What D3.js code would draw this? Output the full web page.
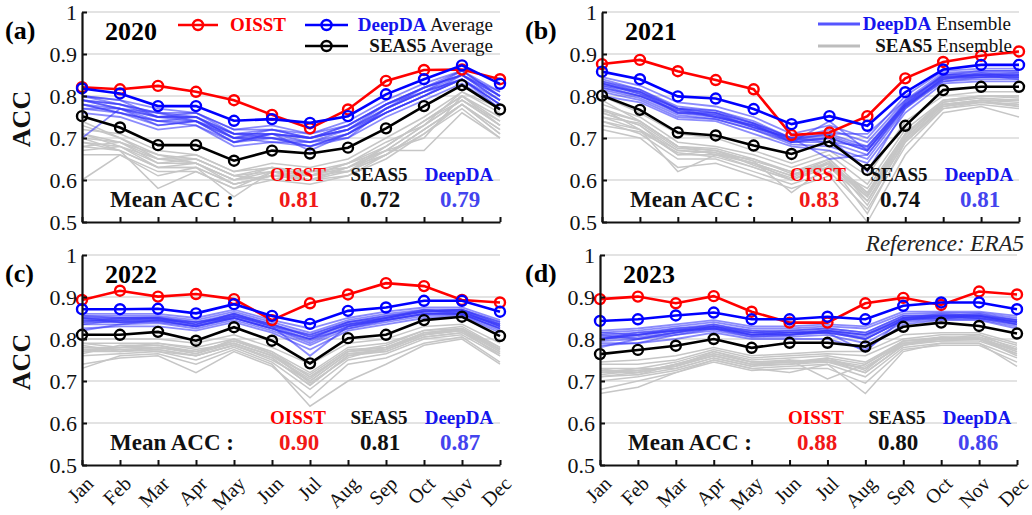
<!DOCTYPE html>
<html>
<head>
<meta charset="utf-8">
<script src="https://cdn.jsdelivr.net/npm/d3@7"></script>
<style>
  html,body{margin:0;padding:0;background:#fff;}
  svg{display:block;}
</style>
</head>
<body>
<svg id="chart" width="1032" height="515"></svg>
<script>
// ---------------- DATA ----------------
const months = ["Jan","Feb","Mar","Apr","May","Jun","Jul","Aug","Sep","Oct","Nov","Dec"];
const years = ["2020","2021","2022","2023"];
const panelLetters = ["(a)","(b)","(c)","(d)"];
const yTicks = [0.5,0.6,0.7,0.8,0.9,1.0];

const oisst2020 = [0.821,0.816,0.824,0.810,0.790,0.755,0.723,0.768,0.836,0.862,0.863,0.840];
const deepda2020 = [0.818,0.806,0.776,0.776,0.741,0.745,0.736,0.752,0.804,0.840,0.873,0.829];
const seas2020 = [0.752,0.725,0.683,0.683,0.646,0.670,0.663,0.677,0.723,0.776,0.826,0.768];

const oisst2021 = [0.876,0.886,0.859,0.838,0.816,0.707,0.713,0.752,0.842,0.881,0.896,0.906];
const deepda2021 = [0.858,0.840,0.799,0.794,0.769,0.733,0.752,0.729,0.809,0.863,0.874,0.874];
const seas2021 = [0.801,0.767,0.713,0.706,0.682,0.662,0.692,0.624,0.729,0.814,0.822,0.822];

const oisst2022 = [0.893,0.915,0.901,0.907,0.895,0.845,0.885,0.906,0.933,0.926,0.893,0.887];
const deepda2022 = [0.871,0.871,0.872,0.861,0.883,0.855,0.836,0.867,0.875,0.891,0.891,0.865];
const seas2022 = [0.810,0.810,0.817,0.796,0.828,0.796,0.742,0.802,0.810,0.845,0.853,0.807];

const oisst2023 = [0.895,0.901,0.885,0.902,0.865,0.839,0.839,0.885,0.898,0.881,0.913,0.906];
const deepda2023 = [0.843,0.847,0.856,0.863,0.847,0.847,0.853,0.847,0.879,0.887,0.887,0.871];
const seas2023 = [0.764,0.774,0.784,0.800,0.779,0.791,0.791,0.782,0.829,0.839,0.831,0.813];

const deepdaEns2020 = [
  [.80,.79,.77,.76,.72,.73,.71,.74,.79,.83,.86,.81],
  [.79,.78,.75,.75,.71,.72,.70,.73,.78,.82,.85,.80],
  [.78,.77,.74,.75,.70,.71,.70,.72,.77,.81,.85,.79],
  [.77,.76,.73,.74,.69,.70,.69,.71,.76,.80,.84,.78],
  [.80,.78,.76,.76,.71,.71,.69,.72,.78,.82,.85,.80],
  [.79,.77,.75,.74,.70,.70,.68,.71,.76,.80,.84,.79],
  [.76,.75,.72,.73,.68,.69,.68,.70,.75,.79,.83,.77],
  [.78,.76,.74,.73,.69,.71,.70,.72,.77,.81,.84,.78],
  [.70,.77,.75,.75,.70,.72,.71,.73,.78,.81,.86,.80],
  [.79,.78,.76,.75,.71,.70,.68,.71,.77,.82,.85,.81],
  [.77,.77,.73,.74,.69,.71,.67,.71,.76,.80,.84,.78],
  [.80,.79,.75,.76,.72,.72,.70,.73,.78,.82,.86,.80],
  [.78,.76,.74,.74,.70,.69,.69,.70,.77,.81,.84,.77],
  [.79,.77,.76,.74,.71,.71,.70,.72,.76,.80,.85,.79]
];
const seasEns2020 = [
  [.72,.71,.67,.66,.62,.64,.63,.65,.70,.75,.81,.76],
  [.70,.69,.65,.65,.61,.63,.62,.64,.68,.74,.80,.74],
  [.69,.68,.64,.64,.60,.62,.61,.63,.67,.73,.79,.73],
  [.68,.67,.63,.63,.59,.61,.60,.62,.66,.72,.78,.72],
  [.66,.66,.62,.62,.58,.60,.59,.61,.65,.71,.78,.71],
  [.73,.70,.66,.65,.61,.62,.62,.63,.68,.74,.80,.75],
  [.60,.66,.61,.63,.59,.61,.60,.61,.66,.71,.77,.70],
  [.71,.69,.66,.64,.60,.63,.61,.64,.67,.73,.79,.74],
  [.67,.68,.63,.64,.59,.61,.61,.62,.66,.72,.78,.72],
  [.70,.67,.58,.62,.58,.62,.60,.63,.67,.70,.80,.73],
  [.68,.69,.64,.65,.61,.60,.62,.62,.68,.74,.79,.73],
  [.74,.70,.65,.66,.62,.63,.61,.64,.69,.73,.81,.77],
  [.69,.67,.63,.63,.56,.62,.60,.63,.66,.72,.78,.71],
  [.71,.68,.65,.64,.60,.61,.62,.62,.67,.67,.76,.70]
];
const deepdaEns2021 = [
  [.845,.825,.785,.775,.75,.71,.73,.70,.80,.86,.865,.865],
  [.835,.815,.775,.765,.74,.70,.72,.69,.79,.855,.86,.86],
  [.83,.81,.77,.76,.735,.70,.71,.68,.785,.85,.855,.855],
  [.825,.80,.765,.755,.73,.695,.70,.67,.78,.845,.85,.85],
  [.82,.80,.76,.75,.725,.69,.69,.66,.775,.84,.845,.845],
  [.815,.795,.755,.745,.72,.685,.68,.65,.77,.835,.84,.84],
  [.80,.785,.745,.74,.71,.68,.67,.64,.76,.83,.835,.835],
  [.83,.805,.77,.75,.73,.69,.74,.67,.78,.85,.85,.85],
  [.825,.81,.76,.76,.725,.70,.65,.66,.775,.84,.855,.845],
  [.84,.815,.77,.765,.735,.69,.70,.62,.77,.845,.85,.855],
  [.82,.80,.765,.75,.73,.695,.71,.71,.79,.845,.845,.85],
  [.83,.805,.76,.755,.725,.70,.69,.68,.78,.84,.85,.84],
  [.81,.79,.75,.745,.72,.69,.70,.67,.775,.835,.845,.845],
  [.835,.81,.77,.76,.735,.70,.705,.675,.785,.85,.86,.86]
];
const seasEns2021 = [
  [.80,.76,.71,.70,.67,.64,.67,.61,.74,.80,.81,.81],
  [.78,.75,.69,.68,.66,.63,.66,.59,.72,.79,.80,.80],
  [.77,.74,.68,.675,.65,.62,.65,.57,.71,.785,.795,.79],
  [.76,.73,.67,.665,.64,.61,.64,.56,.70,.78,.79,.785],
  [.75,.72,.66,.66,.63,.60,.63,.55,.69,.775,.785,.78],
  [.74,.71,.65,.65,.62,.59,.62,.53,.68,.77,.78,.77],
  [.72,.70,.63,.64,.61,.58,.61,.50,.66,.76,.775,.75],
  [.77,.72,.62,.66,.64,.60,.64,.57,.70,.78,.79,.79],
  [.75,.735,.675,.67,.635,.605,.645,.54,.695,.775,.79,.775],
  [.79,.74,.68,.66,.65,.615,.63,.58,.71,.79,.80,.80],
  [.74,.72,.67,.665,.64,.61,.65,.55,.70,.78,.785,.78],
  [.76,.73,.66,.67,.645,.57,.635,.56,.705,.785,.80,.795],
  [.73,.715,.665,.655,.63,.60,.64,.52,.69,.77,.785,.775],
  [.765,.74,.68,.67,.645,.62,.64,.565,.71,.78,.79,.79]
];
const deepdaEns2022 = [
  [.86,.86,.86,.85,.87,.845,.825,.85,.865,.875,.875,.845],
  [.855,.855,.855,.845,.865,.84,.815,.845,.86,.87,.87,.84],
  [.85,.85,.852,.84,.86,.835,.81,.84,.855,.868,.868,.835],
  [.845,.845,.848,.835,.855,.83,.80,.835,.85,.865,.865,.83],
  [.84,.84,.843,.83,.85,.825,.795,.83,.845,.86,.86,.825],
  [.835,.835,.838,.825,.845,.82,.785,.825,.84,.855,.858,.82],
  [.825,.83,.83,.82,.84,.815,.775,.82,.835,.85,.855,.815],
  [.82,.835,.845,.83,.855,.83,.76,.83,.845,.86,.86,.825],
  [.85,.84,.845,.84,.85,.825,.80,.84,.85,.865,.87,.835],
  [.84,.85,.85,.835,.86,.835,.805,.835,.845,.86,.865,.83],
  [.845,.84,.84,.83,.85,.825,.79,.83,.85,.87,.86,.835],
  [.855,.85,.85,.835,.86,.83,.81,.84,.855,.865,.865,.83],
  [.835,.845,.845,.83,.85,.825,.80,.825,.845,.86,.86,.825],
  [.85,.845,.85,.84,.855,.835,.805,.835,.85,.865,.87,.84]
];
const seasEns2022 = [
  [.80,.80,.80,.79,.81,.78,.74,.79,.80,.83,.835,.79],
  [.79,.79,.79,.78,.80,.77,.72,.78,.79,.82,.83,.78],
  [.78,.78,.785,.77,.795,.765,.71,.77,.78,.815,.825,.775],
  [.775,.775,.78,.765,.79,.76,.70,.765,.775,.81,.82,.77],
  [.77,.77,.775,.76,.785,.755,.69,.76,.77,.805,.815,.765],
  [.76,.765,.77,.75,.78,.745,.68,.75,.765,.80,.81,.76],
  [.74,.755,.76,.72,.77,.735,.66,.74,.755,.79,.805,.745],
  [.73,.76,.765,.74,.775,.74,.64,.70,.74,.785,.80,.74],
  [.785,.77,.78,.77,.79,.76,.705,.77,.775,.81,.82,.77],
  [.765,.785,.785,.765,.80,.765,.695,.755,.78,.81,.825,.775],
  [.78,.775,.77,.76,.785,.75,.70,.765,.77,.805,.815,.765],
  [.77,.78,.79,.775,.79,.76,.715,.775,.78,.815,.82,.775],
  [.775,.77,.775,.76,.785,.755,.69,.76,.775,.81,.82,.76],
  [.79,.78,.78,.77,.795,.77,.71,.77,.785,.82,.825,.78]
];
const deepdaEns2023 = [
  [.82,.825,.835,.845,.83,.83,.835,.83,.865,.865,.865,.855],
  [.815,.82,.83,.84,.825,.825,.83,.825,.86,.862,.862,.85],
  [.81,.815,.825,.835,.82,.82,.825,.815,.855,.858,.858,.845],
  [.805,.81,.82,.83,.815,.815,.82,.81,.85,.855,.855,.84],
  [.80,.805,.815,.825,.81,.81,.815,.80,.845,.85,.85,.835],
  [.795,.80,.81,.82,.805,.805,.81,.79,.84,.847,.847,.83],
  [.785,.79,.80,.815,.80,.80,.80,.775,.835,.845,.845,.825],
  [.78,.80,.815,.83,.81,.815,.815,.77,.85,.855,.855,.84],
  [.80,.81,.82,.825,.815,.81,.82,.80,.845,.855,.85,.835],
  [.81,.80,.815,.83,.81,.815,.82,.81,.85,.86,.855,.84],
  [.80,.81,.82,.835,.815,.82,.825,.815,.855,.855,.86,.845],
  [.815,.81,.825,.83,.82,.815,.815,.805,.85,.85,.855,.845],
  [.80,.815,.82,.825,.81,.81,.82,.81,.845,.855,.85,.84],
  [.79,.79,.81,.825,.805,.81,.815,.80,.845,.85,.855,.835]
];
const seasEns2023 = [
  [.745,.75,.76,.78,.76,.765,.77,.77,.81,.815,.815,.79],
  [.74,.74,.75,.775,.755,.76,.765,.76,.80,.81,.81,.785],
  [.73,.73,.745,.77,.75,.755,.76,.745,.795,.805,.805,.78],
  [.72,.72,.735,.76,.74,.745,.75,.73,.79,.80,.80,.77],
  [.71,.715,.73,.755,.735,.74,.745,.72,.785,.795,.795,.765],
  [.70,.71,.725,.75,.73,.735,.74,.71,.78,.79,.79,.755],
  [.68,.70,.72,.745,.725,.73,.73,.695,.775,.785,.785,.745],
  [.67,.685,.72,.75,.73,.72,.74,.67,.77,.79,.79,.735],
  [.725,.72,.74,.765,.745,.75,.705,.74,.79,.80,.80,.775],
  [.715,.725,.735,.76,.74,.74,.755,.725,.795,.80,.805,.77],
  [.73,.715,.74,.765,.745,.745,.75,.735,.785,.80,.80,.775],
  [.72,.73,.73,.755,.735,.75,.745,.73,.79,.795,.80,.765],
  [.71,.72,.74,.76,.74,.74,.75,.72,.785,.805,.80,.76],
  [.725,.725,.735,.77,.745,.745,.755,.74,.795,.80,.81,.775]
];

const meanOisst = ["0.81","0.83","0.90","0.88"];
const meanSeas = ["0.72","0.74","0.81","0.80"];
const meanDeepda = ["0.79","0.81","0.87","0.86"];

// -------------- LAYOUT ----------------
const FONT = "'Liberation Serif', 'Times New Roman', serif";
const svg = d3.select("#chart").style("font-family", FONT);
const C_RED = "#ff0000", C_BLUE = "#0000ff", C_BLACK = "#000000";
const C_ENS_BLUE = "rgba(55,55,250,0.58)", C_ENS_GREY = "#c6c6c6";

function txt(sel) { return sel.append("text").style("font-family", FONT); }

const panels = [
  {x0: 82,  x1: 500,  yTop: 12,  yBot: 222, oisst: oisst2020, deepda: deepda2020, seas: seas2020, dEns: deepdaEns2020, sEns: seasEns2020, xLabels:false},
  {x0: 602, x1: 1019, yTop: 12,  yBot: 222, oisst: oisst2021, deepda: deepda2021, seas: seas2021, dEns: deepdaEns2021, sEns: seasEns2021, xLabels:false},
  {x0: 82,  x1: 500,  yTop: 255, yBot: 465, oisst: oisst2022, deepda: deepda2022, seas: seas2022, dEns: deepdaEns2022, sEns: seasEns2022, xLabels:true},
  {x0: 600, x1: 1017, yTop: 255, yBot: 465, oisst: oisst2023, deepda: deepda2023, seas: seas2023, dEns: deepdaEns2023, sEns: seasEns2023, xLabels:true}
];

panels.forEach((p, i) => {
  const g = svg.append("g");
  const x = d3.scalePoint().domain(months).range([p.x0, p.x1]);
  const y = d3.scaleLinear().domain([0.5, 1]).range([p.yBot, p.yTop]);

  // gridlines
  g.append("g").selectAll("line").data(yTicks.filter(t => t > 0.5)).join("line")
    .attr("x1", p.x0).attr("x2", p.x1)
    .attr("y1", d => y(d)).attr("y2", d => y(d))
    .attr("stroke", "#e3e3e3").attr("stroke-width", 2);

  const line = d3.line().x((d, j) => x(months[j])).y(d => y(d));

  // ensembles
  g.append("g").selectAll("path").data(p.sEns).join("path")
    .attr("d", line).attr("fill", "none").attr("stroke", C_ENS_GREY).attr("stroke-width", 1.5);
  g.append("g").selectAll("path").data(p.dEns).join("path")
    .attr("d", line).attr("fill", "none").attr("stroke", C_ENS_BLUE).attr("stroke-width", 1.8);

  // averaged series
  const series = [
    {v: p.seas, c: C_BLACK},
    {v: p.oisst, c: C_RED},
    {v: p.deepda, c: C_BLUE}
  ];
  series.forEach(s => {
    g.append("path").datum(s.v).attr("d", line).attr("fill", "none")
      .attr("stroke", s.c).attr("stroke-width", 2.6);
    g.append("g").selectAll("circle").data(s.v).join("circle")
      .attr("cx", (d, j) => x(months[j])).attr("cy", d => y(d)).attr("r", 5)
      .attr("fill", "none").attr("stroke", s.c).attr("stroke-width", 2.4);
  });

  // axes
  const ya = g.append("g").attr("transform", `translate(${p.x0},0)`)
    .call(d3.axisLeft(y).tickValues(yTicks).tickSize(-5).tickSizeOuter(0).tickPadding(5)
      .tickFormat(d => d === 1 ? "1" : d3.format(".1f")(d)));
  ya.attr("font-family", null);
  ya.select(".domain").attr("stroke", "#111").attr("stroke-width", 2.2);
  ya.selectAll(".tick line").attr("stroke", "#111").attr("stroke-width", 2);
  ya.selectAll(".tick text").style("font-family", FONT).attr("font-size", 22).attr("fill", "#111");

  const xa = g.append("g").attr("transform", `translate(0,${p.yBot})`)
    .call(d3.axisBottom(x).tickSize(-5).tickSizeOuter(0).tickFormat(d => p.xLabels ? d : ""));
  xa.attr("font-family", null);
  xa.select(".domain").attr("stroke", "#111").attr("stroke-width", 2.2);
  xa.selectAll(".tick line").attr("stroke", "#111").attr("stroke-width", 2);
  xa.selectAll(".tick text").style("font-family", FONT)
    .attr("font-size", 20).attr("fill", "#111")
    .attr("text-anchor", "end").attr("dy", null).attr("y", 0)
    .attr("transform", "translate(12,20) rotate(-45)");

  // panel letter and year
  const xo = p.x0 < 300 ? 0 : 520;
  txt(g).attr("x", xo + 5).attr("y", p.yTop + 27)
    .attr("font-weight", "bold").attr("font-size", 26).text(panelLetters[i]);
  txt(g).attr("x", p.x0 + 23).attr("y", p.yTop + 28)
    .attr("font-weight", "bold").attr("font-size", 26).text(years[i]);

  // Mean ACC annotation
  const lab = [
    {t: "OISST", c: C_RED, dx: 216, v: meanOisst[i], vc: "#f01818"},
    {t: "SEAS5", c: "#111", dx: 297, v: meanSeas[i], vc: "#111"},
    {t: "DeepDA", c: "#1515ee", dx: 377, v: meanDeepda[i], vc: "#4444ee"}
  ];
  lab.forEach(l => {
    txt(g).attr("x", p.x0 + l.dx).attr("y", p.yTop + 169).attr("text-anchor", "middle")
      .attr("font-weight", "bold").attr("font-size", 19).attr("fill", l.c).text(l.t);
    txt(g).attr("x", p.x0 + l.dx + 1).attr("y", p.yTop + 195).attr("text-anchor", "middle")
      .attr("font-weight", "bold").attr("font-size", 23).attr("fill", l.vc).text(l.v);
  });
  txt(g).attr("x", p.x0 + 28).attr("y", p.yTop + 195)
    .attr("font-weight", "bold").attr("font-size", 23).attr("fill", "#111").text("Mean ACC :");

  // y label for left panels
  if (p.x0 < 300) {
    txt(g).attr("transform", `translate(30,${(p.yTop + p.yBot) / 2 + 2}) rotate(-90)`)
      .attr("text-anchor", "middle").attr("font-weight", "bold")
      .attr("font-size", 26).attr("fill", "#111").text("ACC");
  }
});

// ---------- Legends ----------
function legendLine(x1, x2, y, color, w, marker) {
  svg.append("line").attr("x1", x1).attr("x2", x2).attr("y1", y).attr("y2", y)
    .attr("stroke", color).attr("stroke-width", w);
  if (marker) svg.append("circle").attr("cx", (x1 + x2) / 2).attr("cy", y).attr("r", 5)
    .attr("fill", "none").attr("stroke", color).attr("stroke-width", 2.4);
}
legendLine(178, 218, 25, C_RED, 2.6, true);
txt(svg).attr("x", 230).attr("y", 31).attr("font-weight", "bold")
  .attr("font-size", 19).attr("fill", C_RED).text("OISST");

legendLine(305, 348, 25, C_BLUE, 2.6, true);
const t1 = txt(svg).attr("x", 493).attr("y", 31).attr("text-anchor", "end").attr("font-size", 19);
t1.append("tspan").attr("font-weight", "bold").attr("fill", "#1515ee").text("DeepDA");
t1.append("tspan").attr("fill", "#111").text(" Average");

legendLine(305, 348, 46, C_BLACK, 2.6, true);
const t2 = txt(svg).attr("x", 493).attr("y", 52).attr("text-anchor", "end").attr("font-size", 19);
t2.append("tspan").attr("font-weight", "bold").attr("fill", "#111").text("SEAS5");
t2.append("tspan").attr("fill", "#111").text(" Average");

legendLine(818, 860, 24, "#5555ff", 3, false);
const t3 = txt(svg).attr("x", 1011).attr("y", 30).attr("text-anchor", "end").attr("font-size", 19);
t3.append("tspan").attr("font-weight", "bold").attr("fill", "#1515ee").text("DeepDA");
t3.append("tspan").attr("fill", "#111").text(" Ensemble");

legendLine(818, 860, 46, "#bdbdbd", 3, false);
const t4 = txt(svg).attr("x", 1012).attr("y", 52).attr("text-anchor", "end").attr("font-size", 19);
t4.append("tspan").attr("font-weight", "bold").attr("fill", "#111").text("SEAS5");
t4.append("tspan").attr("fill", "#111").text(" Ensemble");

// reference note
txt(svg).attr("x", 1024).attr("y", 251).attr("text-anchor", "end")
  .attr("font-style", "italic").attr("font-size", 23).attr("fill", "#222")
  .text("Reference: ERA5");
</script>
</body>
</html>
